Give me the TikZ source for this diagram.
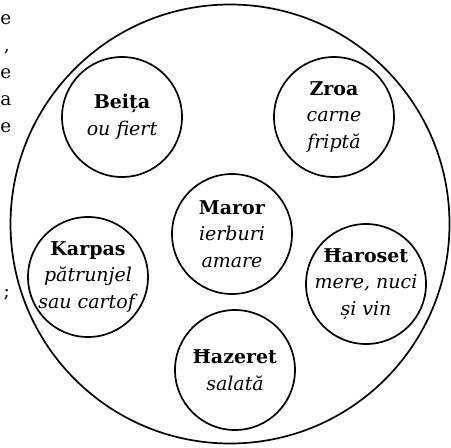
\documentclass[tikz,border=0pt]{standalone}
\usepackage{fontspec}
\setmainfont{DejaVu Serif}

\begin{document}
\begin{tikzpicture}[x=1pt, y=-1pt,
    dish/.style={draw, circle, line width=1.7pt, minimum size=120pt, inner sep=-15pt,
        align=center, font=\fontsize{19}{26.5}\selectfont},
    margintext/.style={anchor=base east, inner sep=0pt, font=\fontsize{18.5}{26.5}\selectfont}]
    \useasboundingbox (0,0) rectangle (451,448);

    % cut-off text of the page, left margin
    \node[margintext] (line1) at (11.5,24) {e};
    \node[margintext] (line2) at (10,51) {,};
    \node[margintext] (line3) at (11.5,78) {e};
    \node[margintext] (line4) at (11.5,105) {a};
    \node[margintext] (line5) at (11.5,132) {e};
    \node[margintext] (line6) at (10,297) {;};

    % the seder plate
    \node[draw, circle, line width=1.7pt, minimum size=439pt, inner sep=0pt] (platter) at (230,224) {};

    \node[dish] (beita) at (122,117) {\textbf{Beița}\\\textit{ou fiert}};
    \node[dish] (zroa) at (334,117) {\textbf{Zroa}\\\textit{carne}\\\textit{friptă}};
    \node[dish] (maror) at (232,234) {\textbf{Maror}\\\textit{ierburi}\\\textit{amare}};
    \node[dish] (karpas) at (88,277) {\textbf{Karpas}\\\textit{pătrunjel}\\\textit{sau cartof}};
    \node[dish] (haroset) at (366,284) {\textbf{Ħaroset}\\\textit{mere, nuci}\\\textit{și vin}};
    \node[dish] (hazeret) at (235,370) {\textbf{Ħazeret}\\\textit{salată}};
\end{tikzpicture}
\end{document}
